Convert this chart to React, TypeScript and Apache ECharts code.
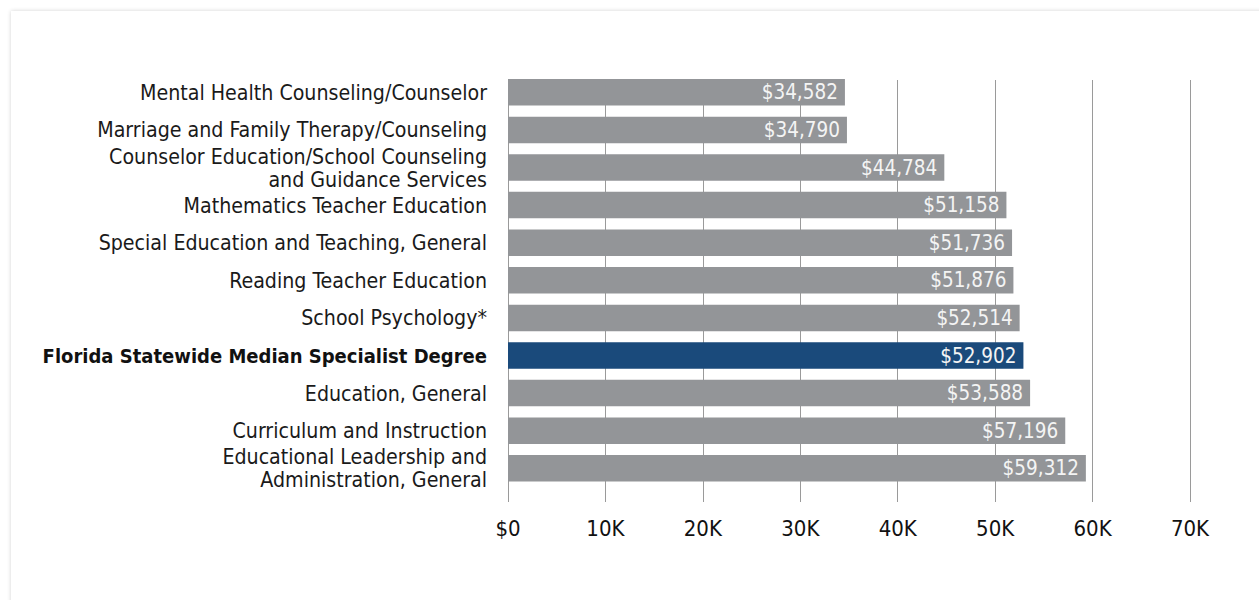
import React, { useEffect, useRef } from "react";
import * as echarts from "echarts";

const categories = [
  "Mental Health Counseling/Counselor",
  "Marriage and Family Therapy/Counseling",
  "Counselor Education/School Counseling\nand Guidance Services",
  "Mathematics Teacher Education",
  "Special Education and Teaching, General",
  "Reading Teacher Education",
  "School Psychology*",
  "Florida Statewide Median Specialist Degree",
  "Education, General",
  "Curriculum and Instruction",
  "Educational Leadership and\nAdministration, General",
];
const salaries = [34582, 34790, 44784, 51158, 51736, 51876, 52514, 52902, 53588, 57196, 59312];
const highlightIndex = 7;
const xTickLabels = ["$0", "10K", "20K", "30K", "40K", "50K", "60K", "70K"];

const FONT = "DejaVu Sans Condensed";

export default function App() {
  const ref = useRef<HTMLDivElement>(null);
  useEffect(() => {
    if (!ref.current) return;
    const chart = echarts.init(ref.current, undefined, { renderer: "svg" });
    chart.setOption({
      animation: false,
      textStyle: { fontFamily: FONT },
      grid: [
        { left: 497, right: 69, top: 62.5, bottom: 600 - 11 - 476.1 },
        { left: 497, right: 69, top: 69, bottom: 600 - 11 - 491 },
      ],
      xAxis: [
        {
          gridIndex: 0,
          type: "value",
          min: 0,
          max: 70000,
          interval: 10000,
          show: false,
          splitLine: { show: false },
        },
        {
          gridIndex: 1,
          type: "value",
          min: 0,
          max: 70000,
          interval: 10000,
          axisLine: { show: false },
          axisTick: { show: false },
          splitLine: { show: true, lineStyle: { color: "#9a9a9a", width: 1 } },
          axisLabel: {
            color: "#111",
            fontSize: 22,
            fontFamily: FONT,
            margin: 15,
            formatter: (v: number) => xTickLabels[Math.round(v / 10000)],
          },
        },
      ],
      yAxis: [
        {
          gridIndex: 0,
          type: "category",
          data: categories,
          inverse: true,
          axisLine: { show: false },
          axisTick: { show: false },
          axisLabel: {
            color: "#1a1a1a",
            fontSize: 21.2,
            fontFamily: FONT,
            margin: 21,
            lineHeight: 23,
            formatter: (v: string, i: number) => (i === highlightIndex ? `{b|${v}}` : v),
            rich: {
              b: { fontWeight: "bold", fontSize: 20, fontFamily: FONT, color: "#111" },
            },
          },
        },
        {
          gridIndex: 1,
          type: "value",
          axisLine: { show: false },
          axisTick: { show: false },
          axisLabel: { show: false },
          splitLine: { show: false },
        },
      ],
      series: [
        {
          type: "bar",
          xAxisIndex: 0,
          yAxisIndex: 0,
          barWidth: 26.5,
          data: salaries.map((v, i) => ({
            value: v,
            itemStyle: { color: i === highlightIndex ? "#1a4a7b" : "#939598" },
          })),
          label: {
            show: true,
            position: "insideRight",
            distance: 7,
            color: "#f4f4f4",
            fontSize: 20.5,
            fontFamily: FONT,
            formatter: (p: any) => "$" + p.value.toLocaleString("en-US"),
          },
        },
      ],
    });
    return () => chart.dispose();
  }, []);
  return (
    <div style={{ position: "fixed", left: 0, top: 0, width: 1259, height: 600, background: "#fff", overflow: "hidden" }}>
      <div
        style={{
          position: "absolute",
          left: 11,
          top: 11,
          width: 1400,
          height: 800,
          background: "#fff",
          boxShadow: "0 0 4px rgba(0,0,0,0.18)",
        }}
      >
        <div ref={ref} style={{ width: 1248, height: 589 }} />
      </div>
    </div>
  );
}
